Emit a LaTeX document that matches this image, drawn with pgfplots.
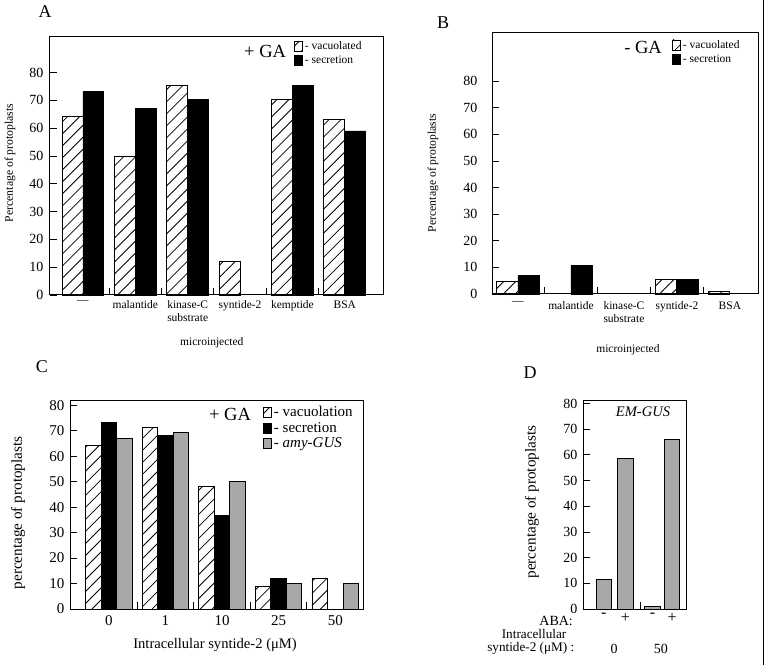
\documentclass[border=0pt]{standalone}
\usepackage{fontspec}
\setmainfont{Liberation Serif}
\usepackage{pgfplots}
\pgfplotsset{compat=1.18}
\usetikzlibrary{patterns.meta}
\definecolor{barGray}{gray}{0.66}
\newcommand{\fs}[1]{\fontsize{#1}{#1}\selectfont}
\tikzset{
  hatchbar/.style={draw=black, line width=0.9pt, pattern={Lines[angle=45,distance=8.5pt,line width=0.8pt]}},
  blackbar/.style={draw=black, line width=0.9pt, fill=black},
  graybar/.style={draw=black, line width=0.9pt, fill=barGray},
}
\pgfplotsset{
  lg/.style={legend image code/.code={\draw[##1, line width=0.7pt] (0pt,-5pt) rectangle (8pt,5pt);}},
  base/.style={scale only axis, clip=false, ybar, ymin=0, ytick={0,10,...,80},
    tick align=inside, xtick pos=left, ytick pos=left,
    major x tick style={draw=none}, major tick length=7pt, minor tick length=7pt,
    axis line style={line width=1pt}, tick style={line width=0.9pt, black},
    /pgf/number format/assume math mode=true,
    legend style={draw=none, fill=none, inner sep=0pt, anchor=north west, legend cell align=left, row sep=1pt},
  },
}
\begin{document}
\begin{tikzpicture}
\useasboundingbox (0pt,0pt) rectangle (766pt,665pt);
% ---------------- A ----------------
\begin{axis}[base, at={(50pt,370pt)}, anchor=south west, width=333pt, height=258pt,
  xmin=-0.63, xmax=5.73, ymax=92.8, bar width=0.4,
  xtick={0,...,5}, xticklabels={{---},{malantide},{kinase-C\\substrate},{syntide-2},{kemptide},{BSA}},
  minor xtick={0.5,1.5,2.5,3.5,4.5},
  xticklabel style={font=\fontsize{11.5}{12.5}\selectfont, align=center, yshift=-2pt},
  yticklabel style={font=\fs{14}, xshift=-3pt},
  ylabel={Percentage of protoplasts}, ylabel style={font=\fs{11.7}, at={(axis description cs:-0.12,0.512)}, anchor=center},
  xlabel={microinjected}, xlabel style={font=\fs{11.5}, at={(axis description cs:0.486,-0.186)}, anchor=center},
  legend style={at={(axis description cs:0.733,0.99)}, font=\fs{11.5}},
]
\addplot[hatchbar, bar shift=-0.2, lg] coordinates {(0,64.1) (1,50) (2,75.2) (3,12) (4,70.4) (5,63.2)};
\addlegendentry{- vacuolated}
\addplot[blackbar, bar shift=0.2, lg] coordinates {(0,73.1) (1,67.1) (2,70.4) (4,75.2) (5,59)};
\addlegendentry{- secretion}
\node[font=\fs{18.5}] at (axis description cs:0.646,0.942) {+ GA};
\end{axis}
% ---------------- B ----------------
\begin{axis}[base, at={(492pt,371pt)}, anchor=south west, width=266pt, height=261pt,
  xmin=-0.49, xmax=4.53, ymax=98.1, bar width=0.4,
  xtick={0,...,4}, xticklabels={{---},{malantide},{kinase-C\\substrate},{syntide-2},{BSA}},
  minor xtick={0.5,1.5,2.5,3.5},
  xticklabel style={font=\fontsize{11.5}{12.5}\selectfont, align=center, yshift=-4pt},
  yticklabel style={font=\fs{14}, xshift=-11pt},
  ylabel={Percentage of protoplasts}, ylabel style={font=\fs{11.7}, at={(axis description cs:-0.222,0.464)}, anchor=center},
  xlabel={microinjected}, xlabel style={font=\fs{11.5}, at={(axis description cs:0.511,-0.215)}, anchor=center},
  legend style={at={(axis description cs:0.677,0.981)}, font=\fs{11.5}},
]
\addplot[hatchbar, bar shift=-0.2, lg] coordinates {(0,4.6) (3,5.3) (4,1.1)};
\addlegendentry{- vacuolated}
\addplot[blackbar, bar shift=0.2, lg] coordinates {(0,6.8) (1,10.6) (3,5.6)};
\addlegendentry{- secretion}
\node[font=\fs{18.5}] at (axis description cs:0.568,0.943) {- GA};
\end{axis}
% ---------------- C ----------------
\begin{axis}[base, at={(70pt,56pt)}, anchor=south west, width=293pt, height=208pt,
  xmin=-0.685, xmax=4.49, ymax=81.7, bar width=0.274,
  xtick={0,...,4}, xticklabels={0,1,10,25,50},
  minor xtick={0.5,1.5,2.5,3.5},
  xticklabel style={font=\fs{15}, yshift=-3pt},
  yticklabel style={font=\fs{15}, xshift=-2pt},
  ylabel={percentage of protoplasts}, ylabel style={font=\fs{15.2}, at={(axis description cs:-0.177,0.462)}, anchor=center},
  xlabel={Intracellular syntide-2 (μM)}, xlabel style={font=\fs{14.6}, at={(axis description cs:0.495,-0.173)}, anchor=center},
  legend style={at={(axis description cs:0.659,0.985)}, font=\fs{15}, row sep=0pt},
]
\addplot[hatchbar, bar shift=-0.274, lg] coordinates {(0,64.4) (1,71.2) (2,48.3) (3,9) (4,12)};
\addlegendentry{- vacuolation}
\addplot[blackbar, bar shift=0, lg] coordinates {(0,73.2) (1,68.1) (2,36.9) (3,12)};
\addlegendentry{- secretion}
\addplot[graybar, bar shift=0.274, lg] coordinates {(0,67) (1,69.5) (2,50) (3,10) (4,10)};
\addlegendentry{- \textit{amy-GUS}}
\node[font=\fs{18.5}] at (axis description cs:0.546,0.933) {+ GA};
\end{axis}
% ---------------- D ----------------
\begin{axis}[base, at={(583pt,56pt)}, anchor=south west, width=103pt, height=208pt,
  xmin=0, xmax=4.89, ymax=81, bar width=0.74,
  xtick={0.99,2.01,3.30,4.23}, xticklabels={-,+,-,+},
  minor xtick={2.71},
  xticklabel style={font=\fs{16}, yshift=-1pt},
  yticklabel style={font=\fs{14}, xshift=-2pt},
  ylabel={percentage of protoplasts}, ylabel style={font=\fs{15.2}, at={(axis description cs:-0.495,0.514)}, anchor=center},
]
\addplot[graybar, bar shift=0] coordinates {(0.99,11.6) (2.01,58.6) (3.30,1) (4.23,66.2)};
\node[font=\itshape\fs{14.6}] at (axis description cs:0.583,0.947) {EM-GUS};
\node[font=\fs{14}, anchor=east, inner sep=1pt] at (axis description cs:-0.087,-0.058) {ABA:};
\node[font=\fs{13.2}, anchor=east, inner sep=0.5pt] at (axis description cs:-0.155,-0.122) {Intracellular};
\node[font=\fs{13.2}, anchor=east, inner sep=0.5pt] at (axis description cs:-0.078,-0.19) {syntide-2 (μM) :};
\node[font=\fs{14}, inner sep=1pt] at (axis description cs:0.301,-0.19) {0};
\node[font=\fs{14}, inner sep=1pt] at (axis description cs:0.757,-0.19) {50};
\end{axis}
% panel letters
\node[font=\fs{18}] at (45pt,653pt) {A};
\node[font=\fs{18}] at (443pt,642pt) {B};
\node[font=\fs{18}] at (42pt,298pt) {C};
\node[font=\fs{18}] at (530pt,292pt) {D};
\draw[line width=1.5pt] (763.5pt,0pt) -- (763.5pt,665pt);
\end{tikzpicture}
\end{document}
